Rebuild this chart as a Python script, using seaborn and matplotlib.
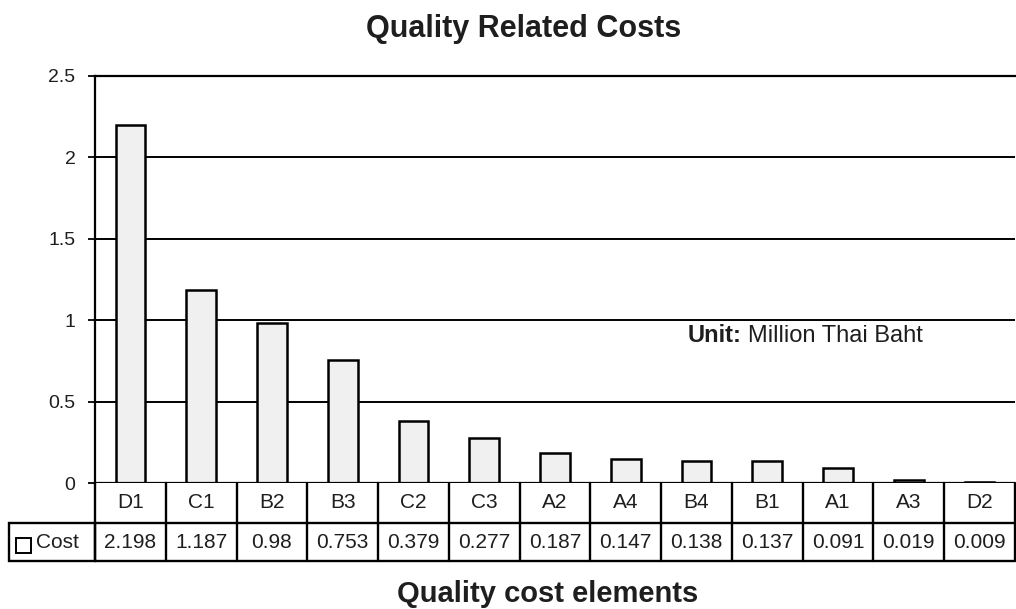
import matplotlib
matplotlib.use("Agg")
import matplotlib.pyplot as plt
import seaborn as sns
import pandas as pd
from matplotlib.lines import Line2D
from matplotlib.patches import Rectangle

# Quality cost elements and their cost (million Thai Baht)
elements = ["D1", "C1", "B2", "B3", "C2", "C3", "A2", "A4", "B4", "B1", "A1", "A3", "D2"]
costs = [2.198, 1.187, 0.98, 0.753, 0.379, 0.277, 0.187, 0.147, 0.138, 0.137, 0.091, 0.019, 0.009]
yticks = [0, 0.5, 1, 1.5, 2, 2.5]
cost_labels = ["2.198", "1.187", "0.98", "0.753", "0.379", "0.277", "0.187",
               "0.147", "0.138", "0.137", "0.091", "0.019", "0.009"]

sns.set_theme(style="white")
plt.rcParams["font.family"] = ["Liberation Sans", "DejaVu Sans"]

W, H = 1016, 609
TXT = "#1e1e1e"

df = pd.DataFrame({"element": elements, "cost": costs})

fig = plt.figure(figsize=(W / 100, H / 100), dpi=100)
ax = fig.add_axes([95 / W, 1 - 483 / H, 920 / W, (483 - 76) / H])

sns.barplot(data=df, x="element", y="cost", order=elements, color="#f0f0f0",
            edgecolor="black", linewidth=1.8, width=0.42, ax=ax, saturation=1)
for p in ax.patches:
    p.set_facecolor("#f0f0f0")
    p.set_zorder(3)

ax.set_ylim(0, 2.5)
ax.set_xlim(-0.5, len(elements) - 0.5)
ax.set_yticks(yticks)
ax.set_yticklabels([f"{t:g}" for t in yticks], fontsize=14)
for lab in ax.get_yticklabels():
    lab.set_color(TXT)
ax.tick_params(axis="y", which="both", left=True, length=5, width=1.3, color="black", pad=9)
ax.set_xticks([])
ax.set_xlabel("")
ax.set_ylabel("")
ax.yaxis.grid(True, color="black", linewidth=1.4)
ax.set_axisbelow(True)
for side in ["right", "bottom"]:
    ax.spines[side].set_visible(False)
ax.spines["left"].set_color("black")
ax.spines["left"].set_linewidth(1.6)
ax.spines["top"].set_color("black")
ax.spines["top"].set_linewidth(1.6)
ax.axhline(0, color="black", linewidth=1.6, zorder=4)

# Data table beneath the bars
trans = ax.get_xaxis_transform()
h = 483 - 76
row1 = -(523 - 483) / h
row2 = -(561 - 483) / h
lw = 1.7
n = len(elements)
for i in range(n + 1):
    x = i - 0.5
    ax.add_line(Line2D([x, x], [0, row2], transform=trans, color="black",
                       linewidth=lw, clip_on=False))
for y in (row1, row2):
    ax.add_line(Line2D([-0.5, n - 0.5], [y, y], transform=trans, color="black",
                       linewidth=lw, clip_on=False))
for i, (el, lab) in enumerate(zip(elements, cost_labels)):
    ax.text(i, row1 / 2, el, transform=trans, ha="center", va="center",
            fontsize=15, color=TXT, clip_on=False)
    ax.text(i, (row1 + row2) / 2, lab, transform=trans, ha="center", va="center",
            fontsize=15, color=TXT, clip_on=False)

# Series label cell on the left of the value row
fx0, fx1 = 9 / W, 95 / W
fy0, fy1 = 1 - 561 / H, 1 - 523 / H
fig.add_artist(Rectangle((fx0, fy0), fx1 - fx0, fy1 - fy0, fill=False,
                         edgecolor="black", linewidth=lw, transform=fig.transFigure))
fig.add_artist(Rectangle((16 / W, 1 - 553 / H), 15 / W, 15 / H, fill=False,
                         edgecolor="black", linewidth=1.4, transform=fig.transFigure))
fig.text(36 / W, (fy0 + fy1) / 2, "Cost", ha="left", va="center",
         fontsize=15, color=TXT)

# Unit note
fig.text(688 / W, 1 - 342 / H, "Unit:", ha="left", va="baseline",
         fontsize=17, fontweight="bold", color=TXT)
fig.text(748 / W, 1 - 342 / H, "Million Thai Baht", ha="left", va="baseline",
         fontsize=17, color=TXT)

fig.text(524 / W, 1 - 37 / H, "Quality Related Costs", ha="center", va="baseline",
         fontsize=22, fontweight="bold", color=TXT)
fig.text(548 / W, 1 - 602 / H, "Quality cost elements", ha="center", va="baseline",
         fontsize=21, fontweight="bold", color=TXT)

fig.savefig("out.png", dpi=100)
